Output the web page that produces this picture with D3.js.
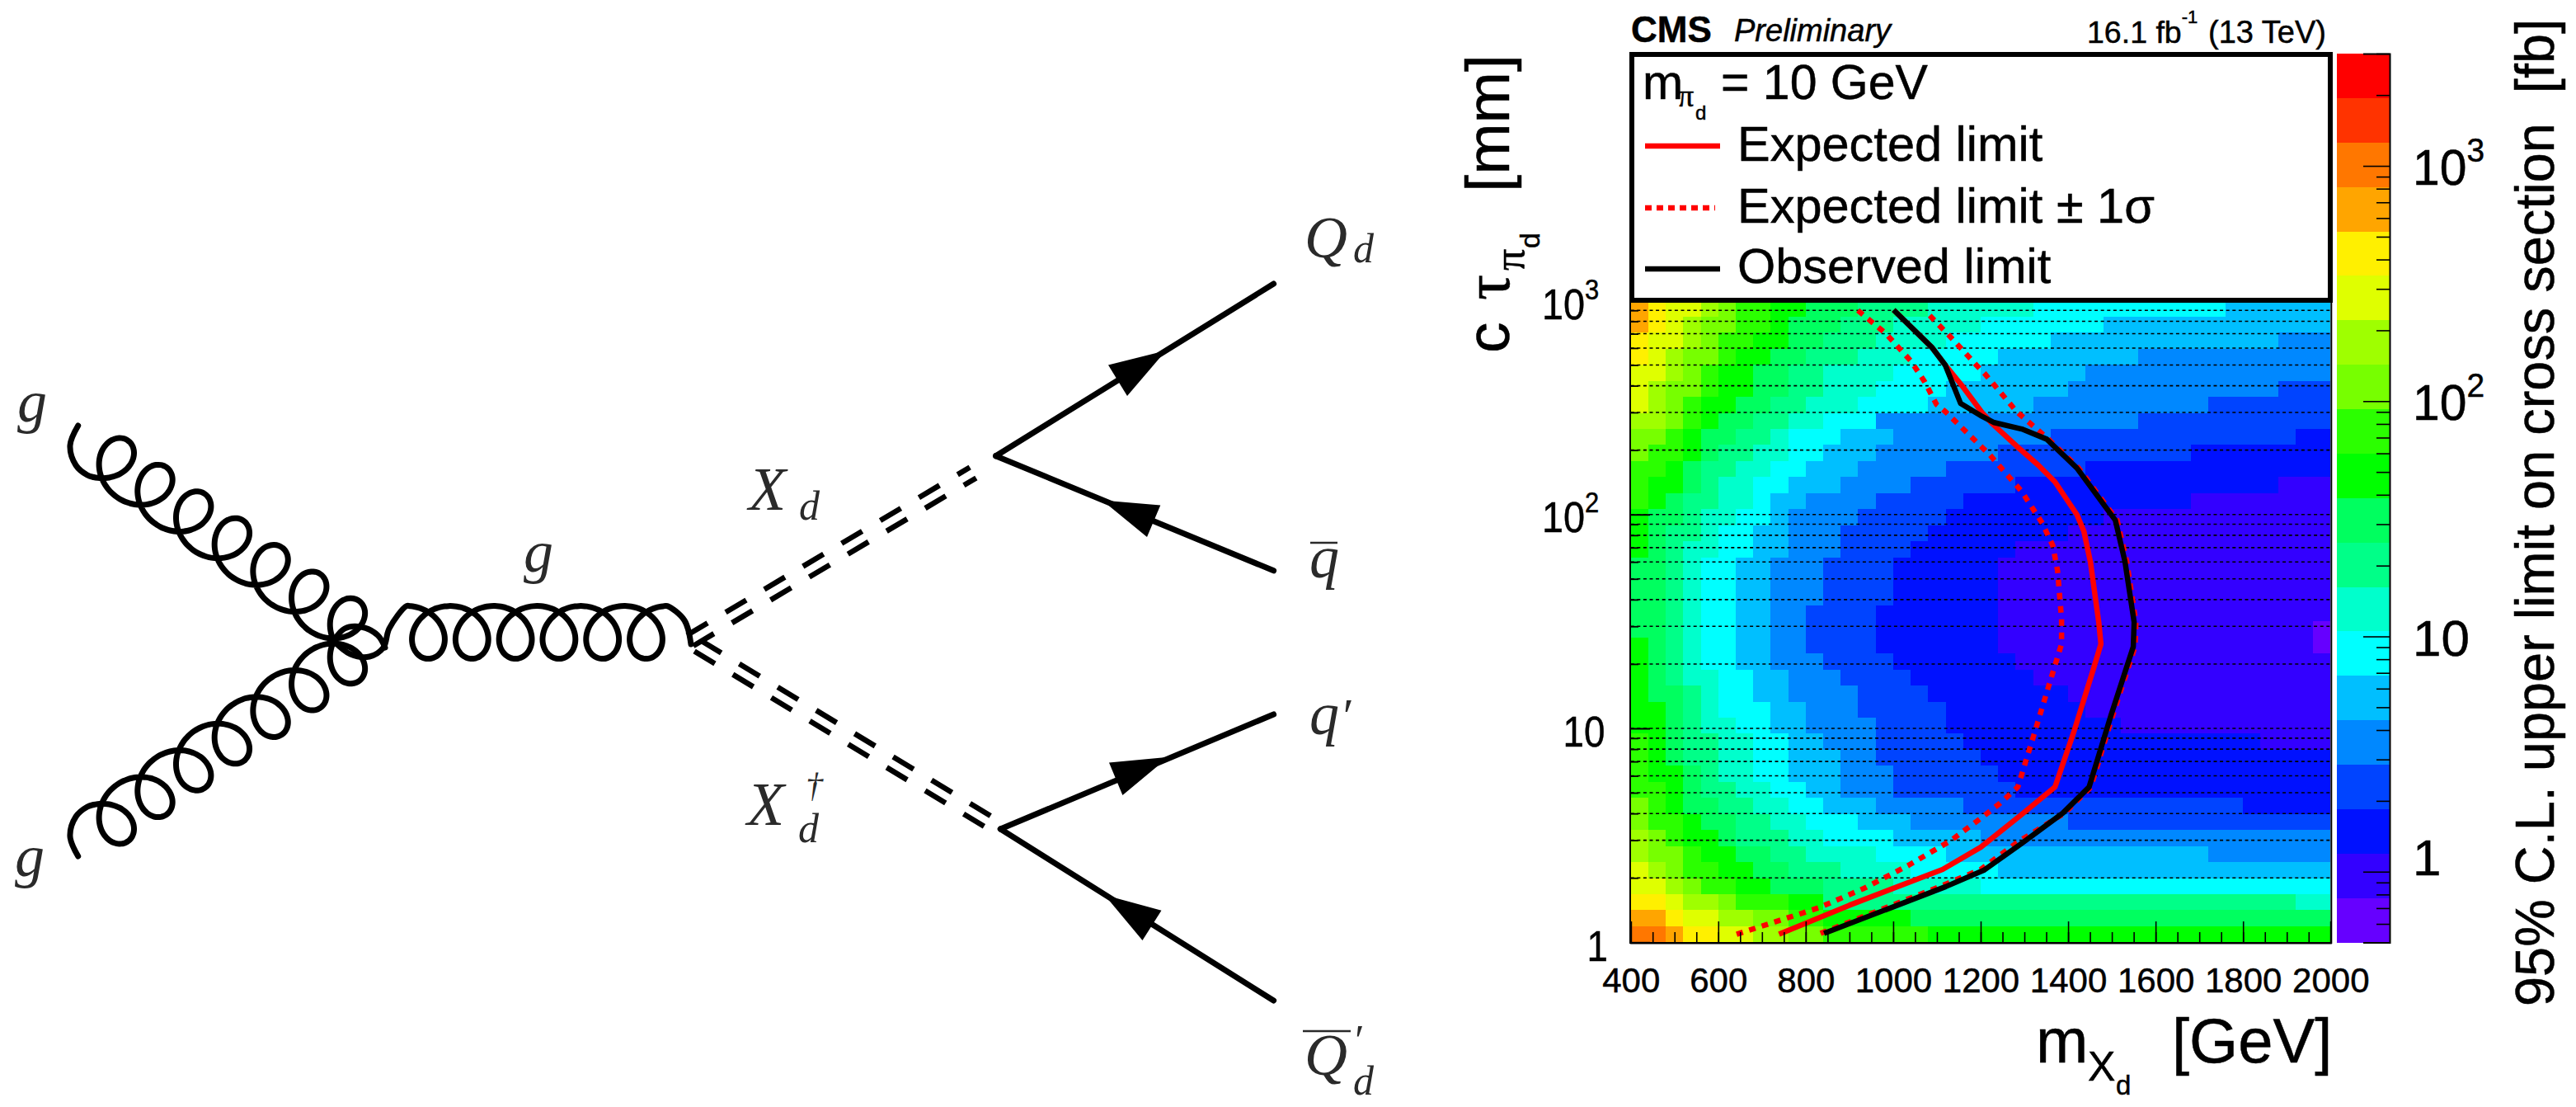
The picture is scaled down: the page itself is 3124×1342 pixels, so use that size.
<!DOCTYPE html>
<html>
<head>
<meta charset="utf-8">
<script src="https://cdnjs.cloudflare.com/ajax/libs/d3/7.8.5/d3.min.js"></script>
<style>
  html, body { margin: 0; padding: 0; background: #fff; }
  svg { display: block; }
  text { font-family: "Liberation Sans", Arial, sans-serif; fill: #000; stroke: #000; stroke-width: 0.5px; }
  .math { font-family: "Liberation Serif", serif; font-style: italic; fill: #2a2a2a; stroke: none; }
</style>
</head>
<body>
<svg id="vis" width="3124" height="1342"></svg>
<script>
// colour bands of the z axis, from lowest (a) to highest (t)
const bandNames = "abcdefghijklmnopqrst".split("");
const bandColors = [
    "#6600ff", "#3300ff", "#0011ff", "#0044ff", "#0088ff",
    "#00bfff", "#00ffff", "#00ffcc", "#00ff88", "#00ff5f",
    "#00ff00", "#2bff00", "#77ff00", "#9fff00", "#dfff00",
    "#fff000", "#ffa500", "#ff7700", "#ff3300", "#ff0000"
];

// limit band of each histogram cell, first row is c tau = 1 mm.
// letter + optional repeat count, 40 columns per row
const cellRows = [
    "rrqppoonnmmllllllkkk k20",
    "qqpoonnmmllkkkkkjjjj j20",
    "pponnmlllkkiiiiiiiii i18 h2",
    "oonmllkkjjjiiiihhhhh g20",
    "onmllkkjjiiihhhhgggg g f19",
    "nmmlkkjjiihhhhggggff f13 e7",
    "nmlkkjiiihhggggfffff e20",
    "mllkjjiihhgggfffeeee e5 d15",
    "mlkjjiihhggfffeeeeed d15 c5",
    "llkjiihhggffeeeddddd d2 c18",
    "lkkjihhggfffeeeddddd d c19",
    "lkjiihhggfffeedddddd c20",
    "lkjiihhggffeeedddddc c16 b4",
    "kkjihhggffeeeeddddcc c8 b12",
    "kkjihgggffeeedddddcc c6 b14",
    "kjjihggffeeeeddddccc c5 b15",
    "kjihhggffeeeddddcccc c3 b17",
    "kjihggffeeeddddccccc c2 b18",
    "kjihggffeeddddcccccc c b18 a",
    "jjihggffeeddddcccccc c b18 a",
    "jjihggffeeddddcccccc c b19",
    "jjihggffeeeddddccccc c b19",
    "jjihggffeeeddddccccc c b19",
    "jjihggffeeeddddccccc c b19",
    "kjihhggffeeeddddcccc c2 b18",
    "kjiihggffeeedddddccc c5 b15",
    "kjjihhggfeeeedddddcc c7 b13",
    "lkjiihhgffeeeedddddc c12 b8",
    "lkkjihhggfffeeeedddd d2 c15 b3",
    "llkjiihhggfffeeeeedd d6 c14",
    "mllkjiihhggfffeeeeee e d11 c8",
    "mmlkjjiihgggfffeeeee e4 d14 c2",
    "nnmlkjjiihhgggeeeeee e9 d11",
    "onmlkkjjiihhhggggfff f3 e10 d7",
    "onmmlkkjjiihhhggggff f5 e12 d3",
    "oonmlkkjjiihhhhggggg f6 e14",
    "ponmmlkkjjiiihhhgggg g f8 e11",
    "poonmllkkjjiiihhhhgg g4 f13 e3",
    "qponmmllkjjjiiihhhhh g7 f13",
    "qpoonmllkkjjjiiiihhh h3 g11 f6"
];

// limit curves: mass in GeV, c tau in mm
const obsMass = [842, 1120, 1207, 1294, 1388, 1448, 1498, 1549, 1551, 1530, 1508, 1489, 1420, 1351, 1294, 1231, 1200, 1154, 1119, 1088, 1001];
const obsTau = [1.1, 1.82, 2.17, 2.9, 4.02, 5.32, 11.5, 24.1, 31.4, 60.3, 94, 106, 165, 225, 251, 269, 290, 331, 500, 606, 904];
const expMass = [739, 900, 1113, 1200, 1294, 1370, 1413, 1458, 1475, 1470, 1451, 1436, 1420, 1370, 1332, 1282, 1224, 1204, 1157, 1119, 1088, 1001];
const expTau = [1.09, 1.49, 2.19, 2.78, 3.96, 5.32, 9.62, 19, 24.8, 31.4, 60, 83.5, 100, 142, 170, 209, 269, 298, 401, 500, 606, 904];
const downMass = [642, 830, 934, 1035, 1132, 1200, 1244, 1285, 1319, 1360, 1385, 1385, 1376, 1365, 1341, 1294, 1221, 1200, 1119, 1099, 1072, 1041, 984, 918];
const downTau = [1.09, 1.45, 1.79, 2.29, 2.99, 3.79, 4.46, 5.32, 8.93, 16.9, 24.8, 32.4, 54.4, 71.6, 91, 128, 190, 209, 303, 327, 417, 520, 699, 904];
const upMass = [834, 1112, 1200, 1286, 1392, 1452, 1502, 1553, 1555, 1534, 1512, 1493, 1424, 1355, 1329, 1282, 1210, 1190, 1132, 1073];
const upTau = [1.1, 1.84, 2.19, 2.95, 4.02, 5.32, 11.5, 24.1, 31.4, 60.3, 94, 106, 165, 225, 250, 303, 454, 500, 673, 897];

// axis ticks
const xMajor = [400, 600, 800, 1000, 1200, 1400, 1600, 1800, 2000];
const xMinor = d3.range(400, 2001, 50);
const yMajor = [1, 10, 100, 1000];
const yMinor = [2, 3, 4, 5, 6, 7, 8, 9, 20, 30, 40, 50, 60, 70, 80, 90, 200, 300, 400, 500, 600, 700, 800, 900];
const zMajor = [1, 10, 100, 1000];
const zMinor = [0.5, 0.6, 0.7, 0.8, 0.9, 2, 3, 4, 5, 6, 7, 8, 9, 20, 30, 40, 50, 60, 70, 80, 90, 200, 300, 400, 500, 600, 700, 800, 900, 2000, 3000];

// production diagram, in page pixels
const vertexG = [404.7, 777];
const vertexUp = [1207.6, 552.7];
const vertexDown = [1213.3, 1005];
const fermionEnds = [
    { from: vertexUp, to: [1544.6, 344] },
    { from: vertexUp, to: [1544.6, 691.8] },
    { from: vertexDown, to: [1544.6, 866] },
    { from: vertexDown, to: [1544.6, 1213] }
];
const arrowHeads = [
    [[1414, 425], [1344, 442.5], [1367, 480]],
    [[1336.7, 606.4], [1407.3, 612.6], [1391, 651]],
    [[1417, 917.7], [1345, 924.6], [1361.4, 964]],
    [[1339.6, 1085], [1408.5, 1103.7], [1385.5, 1140]]
];
const diagramLabels = [
    { x: 21, y: 511, size: 72, label: "g" },
    { x: 18, y: 1062, size: 72, label: "g" },
    { x: 635, y: 693, size: 72, label: "g" },
    { x: 908, y: 618, size: 74, label: "X" },
    { x: 969, y: 630, size: 50, label: "d" },
    { x: 906, y: 1000, size: 74, label: "X" },
    { x: 977, y: 966, size: 42, label: "\u2020" },
    { x: 968, y: 1021, size: 50, label: "d" },
    { x: 1582, y: 312, size: 72, label: "Q" },
    { x: 1641, y: 318, size: 50, label: "d" },
    { x: 1588, y: 700, size: 72, label: "q" },
    { x: 1588, y: 890, size: 72, label: "q" },
    { x: 1625, y: 888, size: 60, label: "\u2032" },
    { x: 1582, y: 1303, size: 72, label: "Q" },
    { x: 1640, y: 1279, size: 52, label: "\u2032" },
    { x: 1641, y: 1327, size: 50, label: "d" }
];
const labelBars = [[1589, 1622, 658], [1580, 1638, 1250]];

const svg = d3.select("svg#vis");

let xScale = d3.scaleLinear().domain([400, 2000]).range([1977.7, 2826.3]);
let yScale = d3.scaleLog().domain([1, 1000]).range([1142.3, 364.4]);
let zScale = d3.scaleLog().domain([0.5, 3000]).range([1142.6, 65]);
let bandScale = d3.scaleBand().domain(bandNames.slice().reverse()).range([65, 1142.6]);
let bandColor = d3.scaleOrdinal().domain(bandNames).range(bandColors);

drawHistogram();
drawLimits();
drawAxes();
drawLegend();
drawPalette();
drawFeynman();

function parseRow(row) {
    let cells = [];
    for (const m of row.matchAll(/([a-t])(\d*)/g)) {
        let count = m[2] ? +m[2] : 1;
        for (let i = 0; i < count; i++) cells.push(m[1]);
    }
    return cells;
}

function drawHistogram() {
    let cells = [];
    cellRows.forEach((row, r) => {
        parseRow(row).forEach((band, c) => cells.push({ r, c, band }));
    });

    // 40 bins in mass, 40 log bins over three decades in c tau
    let tauEdge = r => Math.pow(10, r * 3 / 40);

    svg.append("g").attr("id", "cells")
        .attr("shape-rendering", "crispEdges")
        .selectAll("rect")
        .data(cells)
        .enter()
        .append("rect")
        .attr("x", d => xScale(400 + d.c * 40))
        .attr("width", d => xScale(400 + (d.c + 1) * 40) - xScale(400 + d.c * 40))
        .attr("y", d => yScale(tauEdge(d.r + 1)))
        .attr("height", d => yScale(tauEdge(d.r)) - yScale(tauEdge(d.r + 1)))
        .attr("fill", d => bandColor(d.band));

    // dotted horizontal grid
    svg.append("g").attr("id", "grid")
        .selectAll("line")
        .data(yMinor.concat([10, 100]))
        .enter()
        .append("line")
        .attr("x1", xScale(400))
        .attr("x2", xScale(2000))
        .attr("y1", d => yScale(d))
        .attr("y2", d => yScale(d))
        .attr("stroke", "#000")
        .attr("stroke-width", 1.6)
        .attr("stroke-dasharray", "4 3.6");
}

function drawLimits() {
    let limitLine = d3.line()
        .x(d => xScale(d[0]))
        .y(d => yScale(d[1]));

    let curves = [
        { mass: downMass, tau: downTau, color: "#ff0000", dash: "8 8" },
        { mass: upMass, tau: upTau, color: "#ff0000", dash: "8 8" },
        { mass: expMass, tau: expTau, color: "#ff0000", dash: null },
        { mass: obsMass, tau: obsTau, color: "#000", dash: null }
    ];

    svg.append("g").attr("id", "limits")
        .selectAll("path")
        .data(curves)
        .enter()
        .append("path")
        .attr("d", d => limitLine(d3.zip(d.mass, d.tau)))
        .attr("fill", "none")
        .attr("stroke", d => d.color)
        .attr("stroke-width", 6.5)
        .attr("stroke-linejoin", "round")
        .attr("stroke-dasharray", d => d.dash);
}

function tickLabel(parent, x, y, size, squeeze, base, exponent) {
    // base text with an optional raised exponent, narrowed by squeeze
    let t = parent.append("text")
        .attr("transform", "translate(" + x + "," + y + ") scale(" + squeeze + ",1)")
        .attr("text-anchor", exponent ? "start" : "end")
        .style("font-size", size + "px")
        .text(base);
    if (exponent) {
        t.append("tspan")
            .attr("dy", -size * 0.46)
            .style("font-size", size * 0.66 + "px")
            .text(exponent);
    }
    return t;
}

function drawAxes() {
    let axes = svg.append("g").attr("id", "axes");

    let xAxis = d3.axisBottom(xScale).tickValues(xMajor).tickSize(-26).tickPadding(0)
        .tickFormat(d3.format("d"));
    let xg = axes.append("g")
        .attr("transform", "translate(0,1143)")
        .call(xAxis);
    xg.selectAll("line").attr("stroke-width", 1.6);
    xg.select(".domain").attr("stroke-width", 2);
    xg.selectAll("text")
        .attr("y", 59.5)
        .attr("dy", 0)
        .style("font-family", "Liberation Sans")
        .style("font-size", "42px");

    let xMinorAxis = d3.axisBottom(xScale).tickValues(xMinor).tickSize(-13).tickFormat("");
    let xm = axes.append("g")
        .attr("transform", "translate(0,1143)")
        .call(xMinorAxis);
    xm.select(".domain").remove();
    xm.selectAll("line").attr("stroke-width", 1.6);

    let yAxis = d3.axisLeft(yScale).tickValues(yMajor).tickSize(-24).tickFormat("");
    let yg = axes.append("g")
        .attr("transform", "translate(1977,0)")
        .call(yAxis);
    yg.select(".domain").remove();
    yg.selectAll("line").attr("stroke-width", 2);

    let yMinorAxis = d3.axisLeft(yScale).tickValues(yMinor).tickSize(-10).tickFormat("");
    let ym = axes.append("g")
        .attr("transform", "translate(1977,0)")
        .call(yMinorAxis);
    ym.select(".domain").remove();
    ym.selectAll("line").attr("stroke-width", 1.8);

    // frame
    axes.append("rect")
        .attr("x", 1977)
        .attr("y", 65)
        .attr("width", 850.3)
        .attr("height", 1078)
        .attr("fill", "none")
        .attr("stroke", "#000")
        .attr("stroke-width", 2);

    // y tick labels are narrow in the original
    let yLabels = axes.append("g");
    tickLabel(yLabels, 1950, 1165, 52, 0.88, "1");
    tickLabel(yLabels, 1946.5, 905, 52, 0.88, "10");
    tickLabel(yLabels, 1870, 645, 52, 0.9, "10", "2");
    tickLabel(yLabels, 1870, 387, 52, 0.9, "10", "3");

    // x title
    let xt = axes.append("g");
    xt.append("text").attr("x", 2469).attr("y", 1288).style("font-size", "76px").text("m");
    xt.append("text").attr("x", 2532).attr("y", 1310).style("font-size", "50px").text("X");
    xt.append("text").attr("x", 2566).attr("y", 1327).style("font-size", "33px").text("d");
    xt.append("text").attr("x", 2634).attr("y", 1288).style("font-size", "76px").text("[GeV]");

    // y title, read upward
    let yt = [
        { x: 1830, y: 428, size: 75, label: "c", font: "Liberation Sans" },
        { x: 1830, y: 364, size: 78, label: "\u03c4", font: "Liberation Serif" },
        { x: 1848, y: 328, size: 52, label: "\u03c0", font: "Liberation Serif" },
        { x: 1867, y: 301, size: 34, label: "d", font: "Liberation Sans" },
        { x: 1830, y: 232.7, size: 75, label: "[mm]", font: "Liberation Sans" }
    ];
    axes.append("g").selectAll("text")
        .data(yt)
        .enter()
        .append("text")
        .attr("transform", d => "translate(" + d.x + "," + d.y + ") rotate(-90)")
        .style("font-size", d => d.size + "px")
        .style("font-family", d => d.font)
        .text(d => d.label);

    // header
    axes.append("text").attr("x", 1978).attr("y", 50.7)
        .style("font-size", "44px").style("font-weight", "bold").text("CMS");
    axes.append("text").attr("x", 2103).attr("y", 50)
        .style("font-size", "38px").style("font-style", "italic").text("Preliminary");
    let lumi = axes.append("text").attr("x", 2531).attr("y", 51.7)
        .style("font-size", "37.5px").text("16.1 fb");
    lumi.append("tspan").attr("dy", -23.7).style("font-size", "22px").text("-1");
    lumi.append("tspan").attr("x", 2678).attr("dy", 23.7).style("font-size", "38px").text("(13 TeV)");
}

function drawLegend() {
    let legend = svg.append("g").attr("id", "legend");

    legend.append("rect")
        .attr("x", 1979)
        .attr("y", 66)
        .attr("width", 847)
        .attr("height", 298)
        .attr("fill", "#fff")
        .attr("stroke", "#000")
        .attr("stroke-width", 6);

    let head = legend.append("text").attr("x", 1992).attr("y", 120)
        .style("font-size", "59px").text("m");
    head.append("tspan").attr("x", 2035).attr("dy", 9)
        .style("font-size", "38px").style("font-family", "Liberation Serif").text("\u03c0");
    head.append("tspan").attr("x", 2056).attr("dy", 16)
        .style("font-size", "24px").text("d");
    head.append("tspan").attr("x", 2087).attr("dy", -25)
        .text("= 10 GeV");

    let entries = [
        { label: "Expected limit", color: "#ff0000", dash: null, y: 195, lineY: 177 },
        { label: "Expected limit \u00b1 1\u03c3", color: "#ff0000", dash: "8 6", y: 270, lineY: 252 },
        { label: "Observed limit", color: "#000", dash: null, y: 343, lineY: 326 }
    ];

    legend.selectAll("line.entry")
        .data(entries)
        .enter()
        .append("line")
        .attr("class", "entry")
        .attr("x1", 1995)
        .attr("x2", d => d.dash ? 2080 : 2086)
        .attr("y1", d => d.lineY)
        .attr("y2", d => d.lineY)
        .attr("stroke", d => d.color)
        .attr("stroke-width", 6.5)
        .attr("stroke-dasharray", d => d.dash);

    legend.selectAll("text.entry")
        .data(entries)
        .enter()
        .append("text")
        .attr("class", "entry")
        .attr("x", 2107)
        .attr("y", d => d.y)
        .style("font-size", "59.5px")
        .text(d => d.label);
}

function drawPalette() {
    let pal = svg.append("g").attr("id", "palette");

    pal.append("g").attr("shape-rendering", "crispEdges")
        .selectAll("rect")
        .data(bandNames)
        .enter()
        .append("rect")
        .attr("x", 2834)
        .attr("width", 64)
        .attr("y", d => bandScale(d))
        .attr("height", bandScale.bandwidth())
        .attr("fill", d => bandColor(d));

    let zAxis = d3.axisRight(zScale).tickValues(zMajor).tickSize(-32).tickFormat("");
    let zg = pal.append("g").attr("transform", "translate(2898,0)").call(zAxis);
    zg.select(".domain").attr("stroke-width", 2);
    zg.selectAll("line").attr("stroke-width", 1.6);

    let zMinorAxis = d3.axisRight(zScale).tickValues(zMinor).tickSize(-16).tickFormat("");
    let zm = pal.append("g").attr("transform", "translate(2898,0)").call(zMinorAxis);
    zm.select(".domain").remove();
    zm.selectAll("line").attr("stroke-width", 1.6);

    pal.append("text").attr("x", 2926).attr("y", zScale(1) + 4).style("font-size", "62px").text("1");
    pal.append("text").attr("x", 2926).attr("y", zScale(10) + 23).style("font-size", "62px").text("10");
    tickLabel(pal, 2926, zScale(100) + 23, 62, 0.95, "10", "2");
    tickLabel(pal, 2926, zScale(1000) + 23, 62, 0.95, "10", "3");

    pal.append("text")
        .attr("transform", "translate(3096.7,1220) rotate(-90)")
        .attr("textLength", 1197)
        .attr("lengthAdjust", "spacingAndGlyphs")
        .style("font-size", "66px")
        .style("white-space", "pre")
        .text("95% C.L. upper limit on cross section  [fb]");
}

function curlPoints(origin, u, period, amp, t0, t1) {
    // loops on the normal side of the direction u
    let n = [u[1], -u[0]];
    let a = period / (2 * Math.PI);
    return d3.range(t0, t1, 0.12).map(t => {
        let s = a * t - Math.abs(amp) * Math.sin(t);
        let w = amp * Math.cos(t);
        return [origin[0] + u[0] * s + n[0] * w, origin[1] + u[1] * s + n[1] * w];
    });
}

function drawFeynman() {
    let fey = svg.append("g").attr("id", "feynman");
    let curve = d3.line().curve(d3.curveCatmullRom);

    let upper = [[94.7, 516], [85, 540], [92, 564], [106, 576]]
        .concat(curlPoints([136.8, 560.3], [0.822, 0.57], 56.8, 32, -Math.PI + 0.5, 12 * Math.PI + 2.3))
        .concat([vertexG]);
    let lower = upper.map(p => [p[0], 2 * 777 - p[1]]);

    let across = [vertexG, [425, 793], [448, 796], [465, 785], [472, 762]]
        .concat(curlPoints([519.5, 766.6], [1, 0], 52.8, -32, -Math.PI, 10 * Math.PI + Math.PI))
        .concat([[830, 752], [838, 781]]);
    let lobe = [vertexG, [418, 762], [438, 760], [458, 770], [467, 785]];

    fey.selectAll("path.gluon")
        .data([upper, lower, across, lobe])
        .enter()
        .append("path")
        .attr("class", "gluon")
        .attr("d", d => curve(d))
        .attr("fill", "none")
        .attr("stroke", "#000")
        .attr("stroke-width", 7)
        .attr("stroke-linecap", "round");

    // double dashed scalar lines
    let scalars = [
        { from: [837, 776.5], to: [1180, 573] },
        { from: [846, 783], to: vertexDown }
    ];
    scalars.forEach(s => {
        let dx = s.to[0] - s.from[0], dy = s.to[1] - s.from[1];
        let len = Math.hypot(dx, dy);
        let nx = -dy / len * 7.5, ny = dx / len * 7.5;
        [-1, 1].forEach(side => {
            fey.append("line")
                .attr("x1", s.from[0] + side * nx)
                .attr("y1", s.from[1] + side * ny)
                .attr("x2", s.to[0] + side * nx)
                .attr("y2", s.to[1] + side * ny)
                .attr("stroke", "#000")
                .attr("stroke-width", 6.5)
                .attr("stroke-dasharray", "29 25.5");
        });
    });

    fey.selectAll("line.fermion")
        .data(fermionEnds)
        .enter()
        .append("line")
        .attr("class", "fermion")
        .attr("x1", d => d.from[0])
        .attr("y1", d => d.from[1])
        .attr("x2", d => d.to[0])
        .attr("y2", d => d.to[1])
        .attr("stroke", "#000")
        .attr("stroke-width", 7)
        .attr("stroke-linecap", "round");

    fey.selectAll("polygon")
        .data(arrowHeads)
        .enter()
        .append("polygon")
        .attr("points", d => d.join(" "))
        .attr("fill", "#000");

    fey.selectAll("text")
        .data(diagramLabels)
        .enter()
        .append("text")
        .attr("class", "math")
        .attr("x", d => d.x)
        .attr("y", d => d.y)
        .style("font-size", d => d.size + "px")
        .text(d => d.label);

    fey.selectAll("line.bar")
        .data(labelBars)
        .enter()
        .append("line")
        .attr("class", "bar")
        .attr("x1", d => d[0])
        .attr("x2", d => d[1])
        .attr("y1", d => d[2])
        .attr("y2", d => d[2])
        .attr("stroke", "#2a2a2a")
        .attr("stroke-width", 2.5);
}
</script>
</body>
</html>
